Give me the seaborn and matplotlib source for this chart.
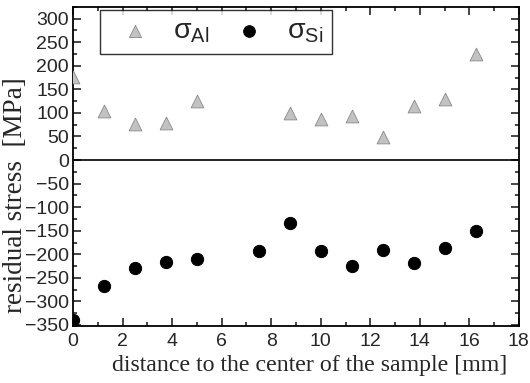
import numpy as np
import pandas as pd
import matplotlib
matplotlib.use("Agg")
import matplotlib.pyplot as plt
import seaborn as sns
from matplotlib.ticker import MultipleLocator

# distances [mm] and stresses [MPa]
x_al = [0, 1.25, 2.5, 3.75, 5, 8.75, 10, 11.25, 12.5, 13.75, 15, 16.25]
s_al = [176, 104, 76, 79, 125, 99, 87, 93, 49, 114, 129, 224]
x_si = [0, 1.25, 2.5, 3.75, 5, 7.5, 8.75, 10, 11.25, 12.5, 13.75, 15, 16.25]
s_si = [-340, -268, -229, -217, -209, -193, -134, -192, -225, -191, -218, -187, -150]

sns.set_style("ticks")
plt.rcParams["font.family"] = ["Liberation Sans", "DejaVu Sans"]

fig = plt.figure(figsize=(5.3, 3.83), dpi=100)
ax = fig.add_axes([0.138, 0.149, 0.841, 0.833])

sns.scatterplot(x=x_al, y=s_al, ax=ax, marker="^", s=85, color="#c2c2c2",
                edgecolor="#8a8a8a", linewidth=0.6, label="σ$_{\\mathregular{Al}}$", zorder=3)
sns.scatterplot(x=x_si, y=s_si, ax=ax, marker="o", s=78, color="black",
                edgecolor="black", label="σ$_{\\mathregular{Si}}$", zorder=3)
ax.axhline(0, color="black", lw=1.2, zorder=2)

ax.set_xlim(0, 18)
ax.set_ylim(-352, 325)
ax.xaxis.set_major_locator(MultipleLocator(2))
ax.xaxis.set_minor_locator(MultipleLocator(1))
ax.yaxis.set_major_locator(MultipleLocator(50))
ax.yaxis.set_minor_locator(MultipleLocator(25))
ax.tick_params(which="both", direction="in", top=True, right=True, width=1.2)
ax.tick_params(which="major", length=6, labelsize=14)
ax.tick_params(axis="x", which="major", pad=5)
ax.tick_params(axis="y", which="major", pad=3)
ax.tick_params(which="minor", length=3)
for sp in ax.spines.values():
    sp.set_linewidth(1.3)
    sp.set_color("black")

ax.set_xlabel("distance to the center of the sample [mm]", family="Liberation Serif", fontsize=17.2)
ax.set_ylabel("residual stress  [MPa]", family="Liberation Serif", fontsize=19.5)
ax.xaxis.set_label_coords(0.531, -0.09)
ax.yaxis.set_label_coords(-0.102, 0.41)

leg = ax.legend(loc="upper left", bbox_to_anchor=(0.0605, 0.99), borderaxespad=0, ncol=2, fontsize=20.5,
                frameon=True, fancybox=False, edgecolor="black", borderpad=0.3,
                handlelength=1.86, columnspacing=0.47, handletextpad=0.4, markerscale=0.95)
leg.get_frame().set_linewidth(1.0)

fig.savefig("out.png", dpi=100)
